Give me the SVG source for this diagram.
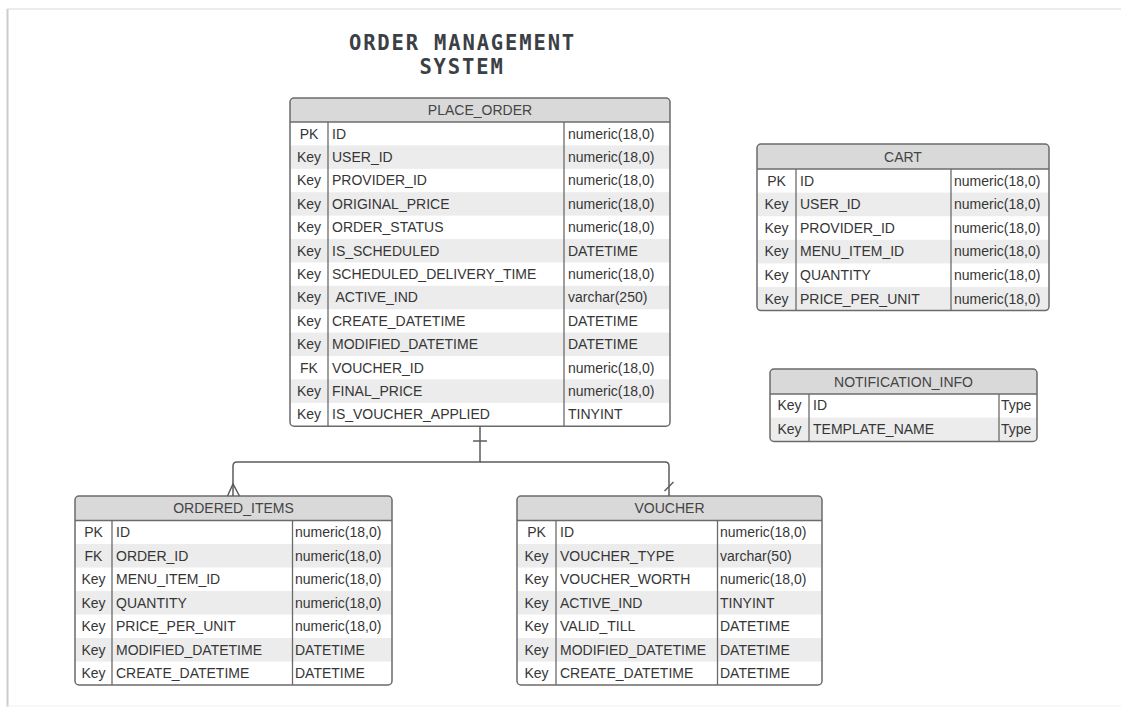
<svg xmlns="http://www.w3.org/2000/svg" width="1121" height="707" viewBox="0 0 1121 707">
<style>
.box{fill:#ffffff;stroke:none}
.frame{fill:none;stroke:#6b6b6b;stroke-width:1.5}
.hdr{fill:#d9d9d9}
.alt{fill:#ececec}
.div{stroke:#6b6b6b;stroke-width:1.3}
.t{font-family:"Liberation Sans",Arial,sans-serif;font-size:14px;fill:#363636}
.h{font-family:"Liberation Sans",Arial,sans-serif;font-size:14px;fill:#444;text-anchor:middle}
.k{text-anchor:middle}
.title{font-family:"DejaVu Sans Mono","Liberation Mono",monospace;font-weight:bold;font-size:20.5px;letter-spacing:1.85px;fill:#3a4045;text-anchor:middle}
.conn{fill:none;stroke:#5c5c5c;stroke-width:1.5}
</style>
<defs>
<clipPath id="cpo"><rect x="290" y="98" width="380" height="328.2" rx="4"/></clipPath>
<clipPath id="ccart"><rect x="757" y="144" width="292" height="166.6" rx="4"/></clipPath>
<clipPath id="cni"><rect x="770" y="369" width="267" height="72.4" rx="4"/></clipPath>
<clipPath id="coi"><rect x="75" y="496" width="317" height="189" rx="4"/></clipPath>
<clipPath id="cv"><rect x="517" y="496" width="305" height="189" rx="4"/></clipPath>
</defs>
<rect width="1121" height="707" fill="#ffffff"/>
<g id="page">
<line x1="7" y1="9" x2="1121" y2="9" stroke="#e6e6e6" stroke-width="1.5"/>
<line x1="7.5" y1="9" x2="7.5" y2="707" stroke="#cccccc" stroke-width="2"/>
<line x1="7" y1="706" x2="1121" y2="706" stroke="#f0f0f0" stroke-width="1"/>
</g>
<g id="title">
<text class="title" x="462.5" y="50">ORDER MANAGEMENT</text>
<text class="title" x="462" y="74">SYSTEM</text>
</g>

<g id="place_order">
<g clip-path="url(#cpo)">
<rect class="box" x="290" y="98" width="380" height="328.2"/>
<rect class="hdr" x="290" y="98" width="380" height="24"/>
<rect class="alt" x="290" y="145.4" width="380" height="23.4"/>
<rect class="alt" x="290" y="192.2" width="380" height="23.4"/>
<rect class="alt" x="290" y="239" width="380" height="23.4"/>
<rect class="alt" x="290" y="285.8" width="380" height="23.4"/>
<rect class="alt" x="290" y="332.6" width="380" height="23.4"/>
<rect class="alt" x="290" y="379.4" width="380" height="23.4"/>
</g>
<line class="div" x1="290" y1="122" x2="670" y2="122"/>
<line class="div" x1="328" y1="122" x2="328" y2="426.2"/>
<line class="div" x1="564" y1="122" x2="564" y2="426.2"/>
<rect class="frame" x="290" y="98" width="380" height="328.2" rx="4"/>
<text class="h" x="480" y="115">PLACE_ORDER</text>
<g class="t">
<text class="k" x="309" y="138.5">PK</text><text x="332" y="138.5">ID</text><text x="568" y="138.5">numeric(18,0)</text>
<text class="k" x="309" y="161.9">Key</text><text x="332" y="161.9">USER_ID</text><text x="568" y="161.9">numeric(18,0)</text>
<text class="k" x="309" y="185.3">Key</text><text x="332" y="185.3">PROVIDER_ID</text><text x="568" y="185.3">numeric(18,0)</text>
<text class="k" x="309" y="208.7">Key</text><text x="332" y="208.7">ORIGINAL_PRICE</text><text x="568" y="208.7">numeric(18,0)</text>
<text class="k" x="309" y="232.1">Key</text><text x="332" y="232.1">ORDER_STATUS</text><text x="568" y="232.1">numeric(18,0)</text>
<text class="k" x="309" y="255.5">Key</text><text x="332" y="255.5">IS_SCHEDULED</text><text x="568" y="255.5">DATETIME</text>
<text class="k" x="309" y="278.9">Key</text><text x="332" y="278.9">SCHEDULED_DELIVERY_TIME</text><text x="568" y="278.9">numeric(18,0)</text>
<text class="k" x="309" y="302.3">Key</text><text x="335.5" y="302.3">ACTIVE_IND</text><text x="568" y="302.3">varchar(250)</text>
<text class="k" x="309" y="325.7">Key</text><text x="332" y="325.7">CREATE_DATETIME</text><text x="568" y="325.7">DATETIME</text>
<text class="k" x="309" y="349.1">Key</text><text x="332" y="349.1">MODIFIED_DATETIME</text><text x="568" y="349.1">DATETIME</text>
<text class="k" x="309" y="372.5">FK</text><text x="332" y="372.5">VOUCHER_ID</text><text x="568" y="372.5">numeric(18,0)</text>
<text class="k" x="309" y="395.9">Key</text><text x="332" y="395.9">FINAL_PRICE</text><text x="568" y="395.9">numeric(18,0)</text>
<text class="k" x="309" y="419.3">Key</text><text x="332" y="419.3">IS_VOUCHER_APPLIED</text><text x="568" y="419.3">TINYINT</text>
</g>
</g>

<g id="cart">
<g clip-path="url(#ccart)">
<rect class="box" x="757" y="144" width="292" height="166.6"/>
<rect class="hdr" x="757" y="144" width="292" height="25"/>
<rect class="alt" x="757" y="192.6" width="292" height="23.6"/>
<rect class="alt" x="757" y="239.8" width="292" height="23.6"/>
<rect class="alt" x="757" y="287" width="292" height="23.6"/>
</g>
<line class="div" x1="757" y1="169" x2="1049" y2="169"/>
<line class="div" x1="796" y1="169" x2="796" y2="310.6"/>
<line class="div" x1="951" y1="169" x2="951" y2="310.6"/>
<rect class="frame" x="757" y="144" width="292" height="166.6" rx="4"/>
<text class="h" x="903" y="161.5">CART</text>
<g class="t">
<text class="k" x="776.5" y="185.5">PK</text><text x="800" y="185.5">ID</text><text x="954" y="185.5">numeric(18,0)</text>
<text class="k" x="776.5" y="209.1">Key</text><text x="800" y="209.1">USER_ID</text><text x="954" y="209.1">numeric(18,0)</text>
<text class="k" x="776.5" y="232.7">Key</text><text x="800" y="232.7">PROVIDER_ID</text><text x="954" y="232.7">numeric(18,0)</text>
<text class="k" x="776.5" y="256.3">Key</text><text x="800" y="256.3">MENU_ITEM_ID</text><text x="954" y="256.3">numeric(18,0)</text>
<text class="k" x="776.5" y="279.9">Key</text><text x="800" y="279.9">QUANTITY</text><text x="954" y="279.9">numeric(18,0)</text>
<text class="k" x="776.5" y="303.5">Key</text><text x="800" y="303.5">PRICE_PER_UNIT</text><text x="954" y="303.5">numeric(18,0)</text>
</g>
</g>

<g id="notification_info">
<g clip-path="url(#cni)">
<rect class="box" x="770" y="369" width="267" height="72.4"/>
<rect class="hdr" x="770" y="369" width="267" height="25"/>
<rect class="alt" x="770" y="417.7" width="267" height="23.7"/>
</g>
<line class="div" x1="770" y1="394" x2="1037" y2="394"/>
<line class="div" x1="809" y1="394" x2="809" y2="441.4"/>
<line class="div" x1="999" y1="394" x2="999" y2="441.4"/>
<rect class="frame" x="770" y="369" width="267" height="72.4" rx="4"/>
<text class="h" x="903.5" y="386.5">NOTIFICATION_INFO</text>
<g class="t">
<text class="k" x="789.5" y="410">Key</text><text x="813" y="410">ID</text><text x="1001" y="410">Type</text>
<text class="k" x="789.5" y="433.7">Key</text><text x="813" y="433.7">TEMPLATE_NAME</text><text x="1001" y="433.7">Type</text>
</g>
</g>

<g id="ordered_items">
<g clip-path="url(#coi)">
<rect class="box" x="75" y="496" width="317" height="189"/>
<rect class="hdr" x="75" y="496" width="317" height="24.5"/>
<rect class="alt" x="75" y="544" width="317" height="23.5"/>
<rect class="alt" x="75" y="591" width="317" height="23.5"/>
<rect class="alt" x="75" y="638" width="317" height="23.5"/>
</g>
<line class="div" x1="75" y1="520.5" x2="392" y2="520.5"/>
<line class="div" x1="112" y1="520.5" x2="112" y2="685"/>
<line class="div" x1="292.5" y1="520.5" x2="292.5" y2="685"/>
<rect class="frame" x="75" y="496" width="317" height="189" rx="4"/>
<text class="h" x="233.5" y="513">ORDERED_ITEMS</text>
<g class="t">
<text class="k" x="93.5" y="537">PK</text><text x="116" y="537">ID</text><text x="295" y="537">numeric(18,0)</text>
<text class="k" x="93.5" y="560.5">FK</text><text x="116" y="560.5">ORDER_ID</text><text x="295" y="560.5">numeric(18,0)</text>
<text class="k" x="93.5" y="584">Key</text><text x="116" y="584">MENU_ITEM_ID</text><text x="295" y="584">numeric(18,0)</text>
<text class="k" x="93.5" y="607.5">Key</text><text x="116" y="607.5">QUANTITY</text><text x="295" y="607.5">numeric(18,0)</text>
<text class="k" x="93.5" y="631">Key</text><text x="116" y="631">PRICE_PER_UNIT</text><text x="295" y="631">numeric(18,0)</text>
<text class="k" x="93.5" y="654.5">Key</text><text x="116" y="654.5">MODIFIED_DATETIME</text><text x="295" y="654.5">DATETIME</text>
<text class="k" x="93.5" y="678">Key</text><text x="116" y="678">CREATE_DATETIME</text><text x="295" y="678">DATETIME</text>
</g>
</g>

<g id="voucher">
<g clip-path="url(#cv)">
<rect class="box" x="517" y="496" width="305" height="189"/>
<rect class="hdr" x="517" y="496" width="305" height="24.5"/>
<rect class="alt" x="517" y="544" width="305" height="23.5"/>
<rect class="alt" x="517" y="591" width="305" height="23.5"/>
<rect class="alt" x="517" y="638" width="305" height="23.5"/>
</g>
<line class="div" x1="517" y1="520.5" x2="822" y2="520.5"/>
<line class="div" x1="556" y1="520.5" x2="556" y2="685"/>
<line class="div" x1="717.5" y1="520.5" x2="717.5" y2="685"/>
<rect class="frame" x="517" y="496" width="305" height="189" rx="4"/>
<text class="h" x="669.5" y="513">VOUCHER</text>
<g class="t">
<text class="k" x="536.5" y="537">PK</text><text x="560" y="537">ID</text><text x="720" y="537">numeric(18,0)</text>
<text class="k" x="536.5" y="560.5">Key</text><text x="560" y="560.5">VOUCHER_TYPE</text><text x="720" y="560.5">varchar(50)</text>
<text class="k" x="536.5" y="584">Key</text><text x="560" y="584">VOUCHER_WORTH</text><text x="720" y="584">numeric(18,0)</text>
<text class="k" x="536.5" y="607.5">Key</text><text x="560" y="607.5">ACTIVE_IND</text><text x="720" y="607.5">TINYINT</text>
<text class="k" x="536.5" y="631">Key</text><text x="560" y="631">VALID_TILL</text><text x="720" y="631">DATETIME</text>
<text class="k" x="536.5" y="654.5">Key</text><text x="560" y="654.5">MODIFIED_DATETIME</text><text x="720" y="654.5">DATETIME</text>
<text class="k" x="536.5" y="678">Key</text><text x="560" y="678">CREATE_DATETIME</text><text x="720" y="678">DATETIME</text>
</g>
</g>

<g id="connectors">
<path class="conn" d="M480 426.5 V462 H237 Q233 462 233 466 V496"/>
<path class="conn" d="M480 462 H665 Q669 462 669 466 V496"/>
<path class="conn" d="M473 441 H487"/>
<path class="conn" d="M227.5 496 L233 484 L239.5 496"/>
<path class="conn" d="M664.5 491 L673.5 482"/>
</g>
</svg>
